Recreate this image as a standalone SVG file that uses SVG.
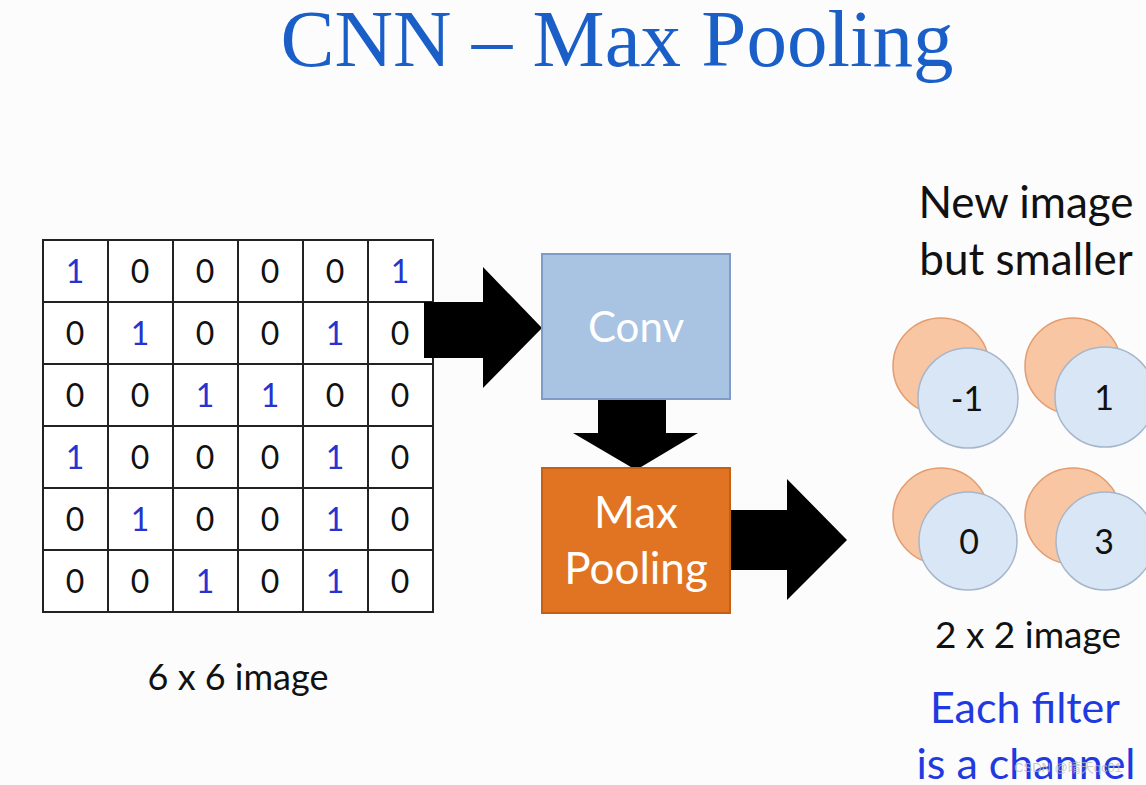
<svg xmlns="http://www.w3.org/2000/svg" width="1146" height="785" viewBox="0 0 1146 785">
<defs>
<style>
.t{font-family:Lato,"Liberation Sans",sans-serif;fill:#111;text-anchor:middle}
.d{font-family:Lato,"Liberation Sans",sans-serif;font-size:32px;text-anchor:middle;fill:#111}
.b{fill:#2633cf}
.oc{fill:#f8c6a2;stroke:#e39c6e;stroke-width:1.5}
.bc{fill:#d9e6f5;stroke:#a6b7cc;stroke-width:1.5}
.arrow{fill:#000}
</style>
</defs>
<rect width="1146" height="785" fill="#fcfcfc"/>
<text x="617" y="66" font-family="'Liberation Serif',serif" font-size="81" fill="#1a5fc8" text-anchor="middle">CNN – Max Pooling</text>

<g id="grid">
<rect x="43" y="240" width="390" height="372" fill="#fff" stroke="#222" stroke-width="2"/>
<path d="M108 240V612M173 240V612M238 240V612M303 240V612M368 240V612M43 302H433M43 364H433M43 426H433M43 488H433M43 550H433" stroke="#222" stroke-width="2" fill="none"/>
<text class="d b" x="75" y="283">1</text><text class="d" x="140" y="283">0</text><text class="d" x="205" y="283">0</text><text class="d" x="270" y="283">0</text><text class="d" x="335" y="283">0</text><text class="d b" x="400" y="283">1</text>
<text class="d" x="75" y="345">0</text><text class="d b" x="140" y="345">1</text><text class="d" x="205" y="345">0</text><text class="d" x="270" y="345">0</text><text class="d b" x="335" y="345">1</text><text class="d" x="400" y="345">0</text>
<text class="d" x="75" y="407">0</text><text class="d" x="140" y="407">0</text><text class="d b" x="205" y="407">1</text><text class="d b" x="270" y="407">1</text><text class="d" x="335" y="407">0</text><text class="d" x="400" y="407">0</text>
<text class="d b" x="75" y="469">1</text><text class="d" x="140" y="469">0</text><text class="d" x="205" y="469">0</text><text class="d" x="270" y="469">0</text><text class="d b" x="335" y="469">1</text><text class="d" x="400" y="469">0</text>
<text class="d" x="75" y="531">0</text><text class="d b" x="140" y="531">1</text><text class="d" x="205" y="531">0</text><text class="d" x="270" y="531">0</text><text class="d b" x="335" y="531">1</text><text class="d" x="400" y="531">0</text>
<text class="d" x="75" y="593">0</text><text class="d" x="140" y="593">0</text><text class="d b" x="205" y="593">1</text><text class="d" x="270" y="593">0</text><text class="d b" x="335" y="593">1</text><text class="d" x="400" y="593">0</text>
</g>
<text class="t" x="238" y="690" font-size="36">6 x 6 image</text>

<g id="connectors">
<polygon class="arrow" points="424,302 483,302 483,267 542,328 483,388 483,358 424,358"/>
<polygon class="arrow" points="598,399 666,399 666,433 698,433 636,470 573,433 598,433"/>
<polygon class="arrow" points="728,510 787,510 787,479 847,540 787,600 787,570 728,570"/>
</g>

<g id="conv">
<rect x="542" y="254" width="188" height="145" fill="#a9c3e3" stroke="#7e9cc6" stroke-width="2"/>
<text class="t" x="636" y="342" font-size="42" style="fill:#fff">Conv</text>
</g>
<g id="maxpool">
<rect x="542" y="468" width="188" height="145" fill="#e07422" stroke="#c55f14" stroke-width="2"/>
<text class="t" x="636" y="528" font-size="44" style="fill:#fff">Max</text>
<text class="t" x="636" y="584" font-size="44" style="fill:#fff">Pooling</text>
</g>

<text class="t" x="1026" y="218" font-size="44">New image</text>
<text class="t" x="1026" y="275" font-size="44">but smaller</text>

<g id="c1"><circle class="oc" cx="941" cy="366" r="48"/><circle class="bc" cx="968" cy="398" r="50"/><text class="t" x="967" y="411" font-size="34">-1</text></g>
<g id="c2"><circle class="oc" cx="1073" cy="366" r="48"/><circle class="bc" cx="1105" cy="397" r="50"/><text class="t" x="1104" y="410" font-size="34">1</text></g>
<g id="c3"><circle class="oc" cx="941" cy="516" r="48"/><circle class="bc" cx="968" cy="541" r="49"/><text class="t" x="969" y="554" font-size="34">0</text></g>
<g id="c4"><circle class="oc" cx="1073" cy="516" r="48"/><circle class="bc" cx="1105" cy="541" r="49"/><text class="t" x="1104" y="554" font-size="34">3</text></g>

<text class="t" x="1028" y="648" font-size="37">2 x 2 image</text>
<text class="t" x="1025" y="723" font-size="43" style="fill:#1f3ae0">Each filter</text>
<text class="t" x="1026" y="779" font-size="43" style="fill:#1f3ae0">is a channel</text>
<text x="1068" y="772" font-family="'Liberation Sans','Noto Sans CJK SC',sans-serif" font-size="13" fill="#bbbbbb" fill-opacity="0.8" text-anchor="middle">CSDN @晴天qc01</text>
</svg>
